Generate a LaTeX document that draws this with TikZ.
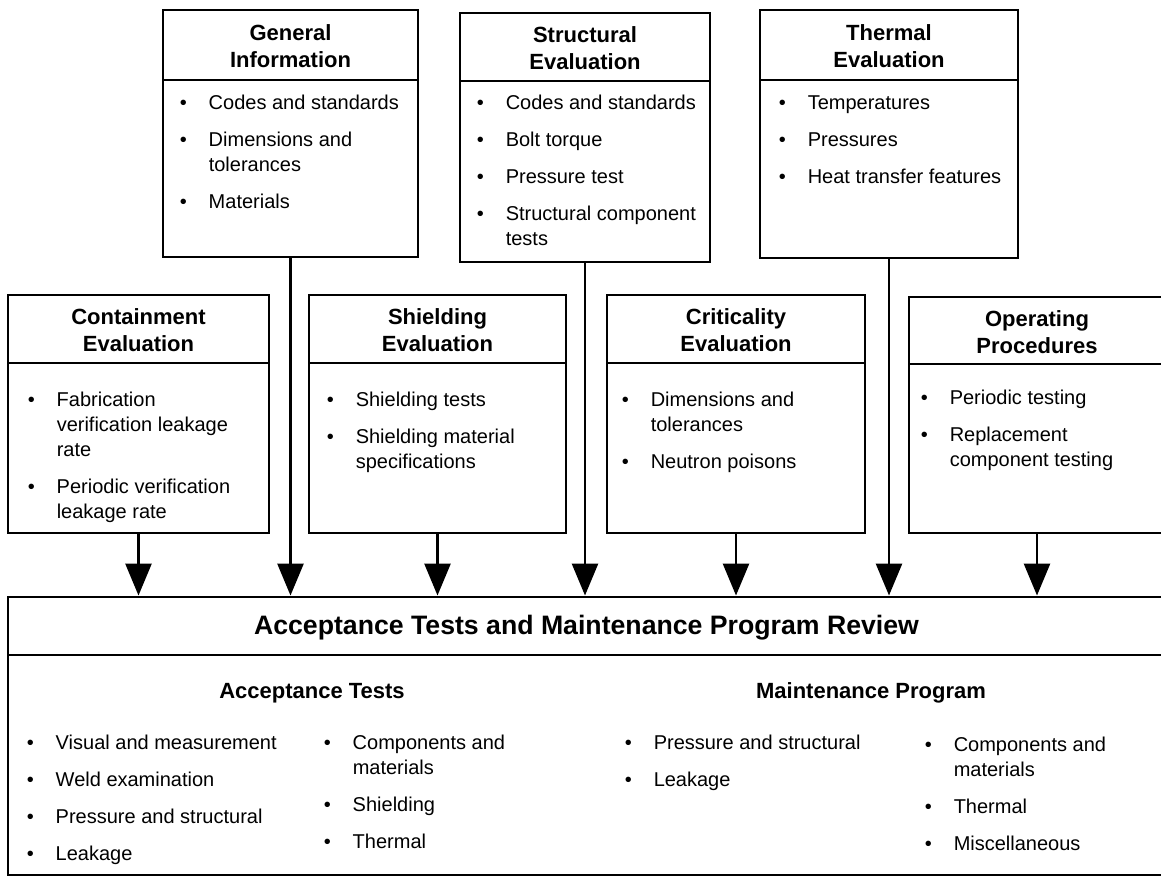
\documentclass[tikz,border=0pt]{standalone}
\usepackage{fontspec}
\setmainfont{Liberation Sans}
\usetikzlibrary{arrows.meta,fit}
% bullet list helpers
\newcommand{\bitem}{\makebox[21.75pt][l]{•}}
\newcommand{\bcont}{\hspace*{21.75pt}}
\newcommand{\itemgap}{\\[9.2pt]}
\begin{document}
\begin{tikzpicture}[x=0.75pt,y=-0.75pt,
  frame/.style={draw, line width=2.2pt, inner sep=0pt},
  ttl/.style={inner sep=0pt, align=center, font=\fontsize{16.5}{20.25}\selectfont\bfseries},
  bigttl/.style={inner sep=0pt, font=\fontsize{20}{24}\selectfont\bfseries},
  lst/.style={inner sep=0pt, anchor=base west, font=\fontsize{15}{18.75}\selectfont},
  subhd/.style={inner sep=0pt, font=\fontsize{16.5}{20}\selectfont\bfseries},
  feed/.style={line width=2pt, -{Triangle[width=19.5pt,length=24pt]}}]
\useasboundingbox (0,0) rectangle (1161,878);

% ---- upper row: heading cell and body cell of each box ----
\node[frame, fit={(163,10) (418,80)}] (gent) {};
\node[frame, fit={(163,80) (418,257)}] (genb) {};
\node[frame, fit={(460,13) (710,81)}] (strt) {};
\node[frame, fit={(460,81) (710,262)}] (strb) {};
\node[frame, fit={(760,10) (1018,80)}] (thmt) {};
\node[frame, fit={(760,80) (1018,258)}] (thmb) {};

% ---- middle row ----
\node[frame, fit={(8,295) (269,363)}] (cont) {};
\node[frame, fit={(8,363) (269,533)}] (conb) {};
\node[frame, fit={(309,295) (566,363)}] (shdt) {};
\node[frame, fit={(309,363) (566,533)}] (shdb) {};
\node[frame, fit={(607,295) (865,363)}] (crtt) {};
\node[frame, fit={(607,363) (865,533)}] (crtb) {};
\node[frame, fit={(909,297) (1165,364)}] (opt) {};
\node[frame, fit={(909,364) (1165,533)}] (opb) {};

% ---- review box ----
\node[frame, fit={(8,597) (1165,655)}] (acct) {};
\node[frame, fit={(8,655) (1165,875)}] (accb) {};

% ---- headings ----
\node[ttl] (gentx) at ([yshift=-1.1pt]gent.center) {General\\Information};
\node[ttl] (strtx) at ([yshift=-1.1pt]strt.center) {Structural\\Evaluation};
\node[ttl] (thmtx) at ([yshift=-1.1pt]thmt.center) {Thermal\\Evaluation};
\node[ttl] (contx) at ([yshift=-1.1pt]cont.center) {Containment\\Evaluation};
\node[ttl] (shdtx) at ([yshift=-1.1pt]shdt.center) {Shielding\\Evaluation};
\node[ttl] (crttx) at ([yshift=-1.1pt]crtt.center) {Criticality\\Evaluation};
\node[ttl] (optx) at ([yshift=-1.1pt]opt.center) {Operating\\Procedures};
\node[bigttl] (acctx) at ([yshift=-1.5pt]acct.center) {Acceptance Tests and Maintenance Program Review};

% ---- lists ----
\node[lst] (genl) at (179.5,109) {\begin{tabular}[t]{@{}l@{}}
\bitem Codes and standards\itemgap
\bitem Dimensions and\\
\bcont tolerances\itemgap
\bitem Materials
\end{tabular}};
\node[lst] (strl) at (476.5,109) {\begin{tabular}[t]{@{}l@{}}
\bitem Codes and standards\itemgap
\bitem Bolt torque\itemgap
\bitem Pressure test\itemgap
\bitem Structural component\\
\bcont tests
\end{tabular}};
\node[lst] (thml) at (778.5,109) {\begin{tabular}[t]{@{}l@{}}
\bitem Temperatures\itemgap
\bitem Pressures\itemgap
\bitem Heat transfer features
\end{tabular}};
\node[lst] (conl) at (27.5,406) {\begin{tabular}[t]{@{}l@{}}
\bitem Fabrication\\
\bcont verification leakage\\
\bcont rate\itemgap
\bitem Periodic verification\\
\bcont leakage rate
\end{tabular}};
\node[lst] (shdl) at (326.5,406) {\begin{tabular}[t]{@{}l@{}}
\bitem Shielding tests\itemgap
\bitem Shielding material\\
\bcont specifications
\end{tabular}};
\node[lst] (crtl) at (621.5,406) {\begin{tabular}[t]{@{}l@{}}
\bitem Dimensions and\\
\bcont tolerances\itemgap
\bitem Neutron poisons
\end{tabular}};
\node[lst] (opl) at (920.5,404) {\begin{tabular}[t]{@{}l@{}}
\bitem Periodic testing\itemgap
\bitem Replacement\\
\bcont component testing
\end{tabular}};

\node[subhd] (ath) at (312,693) {Acceptance Tests};
\node[subhd] (mph) at (871,693) {Maintenance Program};

\node[lst] (at1) at (26.5,749) {\begin{tabular}[t]{@{}l@{}}
\bitem Visual and measurement\itemgap
\bitem Weld examination\itemgap
\bitem Pressure and structural\itemgap
\bitem Leakage
\end{tabular}};
\node[lst] (at2) at (323.5,749) {\begin{tabular}[t]{@{}l@{}}
\bitem Components and\\
\bcont materials\itemgap
\bitem Shielding\itemgap
\bitem Thermal
\end{tabular}};
\node[lst] (mp1) at (624.5,749) {\begin{tabular}[t]{@{}l@{}}
\bitem Pressure and structural\itemgap
\bitem Leakage
\end{tabular}};
\node[lst] (mp2) at (924.5,751) {\begin{tabular}[t]{@{}l@{}}
\bitem Components and\\
\bcont materials\itemgap
\bitem Thermal\itemgap
\bitem Miscellaneous
\end{tabular}};

% ---- feeds into the review ----
\draw[feed] (conb.south) -- (conb.south |- acct.north);
\draw[feed] (genb.south) -- (genb.south |- acct.north);
\draw[feed] (shdb.south) -- (shdb.south |- acct.north);
\draw[feed] (strb.south) -- (strb.south |- acct.north);
\draw[feed] (crtb.south) -- (crtb.south |- acct.north);
\draw[feed] (thmb.south) -- (thmb.south |- acct.north);
\draw[feed] (opb.south) -- (opb.south |- acct.north);
\end{tikzpicture}
\end{document}
